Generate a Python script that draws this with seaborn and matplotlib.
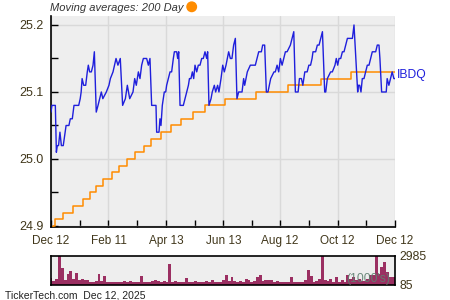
import numpy as np
import pandas as pd
import matplotlib
matplotlib.use("Agg")
import matplotlib.pyplot as plt
import seaborn as sns

# ---------------- data ----------------
start_date = "2024-12-12"
tick_dates = ["2024-12-12", "2025-02-11", "2025-04-13", "2025-06-13",
              "2025-08-12", "2025-10-12", "2025-12-12"]
tick_labels = ["Dec 12", "Feb 11", "Apr 13", "Jun 13", "Aug 12", "Oct 12", "Dec 12"]

price_day = [0, 1, 4.6, 5.7, 6.7, 8, 9.5, 11, 13, 16, 19, 20.5, 22.6, 24.4, 29.4, 31, 32, 33,
             34.7, 36.8, 38.5, 39.6, 41, 42.8, 44.6, 46, 48, 49.9, 51.6, 53.4, 55, 58.7, 61.5,
             63, 65.8, 69, 71, 73.5, 76, 78.9, 81, 83.5, 87, 88.8, 90.5, 92.7, 94.4, 96.2, 98,
             101.5, 103.3, 105, 106.8, 111.4, 112.1, 114.6, 115.6, 116.7, 118.1, 120.2, 121.7,
             122.7, 124.5, 126.3, 128, 129.8, 130.9, 133.4, 134.4, 135.5, 136.9, 140.4, 142.2,
             144, 145.8, 146.9, 148.5, 150, 151.4, 152.8, 154.6, 156.3, 158.1, 159.9, 161.6,
             163.4, 165.2, 166.2, 167.6, 169.8, 171.1, 173.3, 174.7, 176.8, 178.2, 180.4, 182.2,
             183.9, 185.7, 188.5, 190.3, 192, 193.8, 195.6, 197.3, 199.1, 202.7, 204.4, 205.5,
             206.9, 208.3, 211.5, 216.8, 218.6, 220.4, 223.2, 224.6, 226.7, 228.5, 230.2, 231.7,
             233.1, 236.6, 238, 239.9, 241.6, 243.4, 245.2, 247, 248.7, 250.5, 254, 255.8, 257.6,
             259.3, 262.2, 263.6, 265.7, 267.2, 269.3, 271.8, 273.6, 275.4, 277, 278, 280.8,
             282.6, 284.4, 286.2, 288, 290.4, 291.5, 293.2, 296.7, 298.5, 301.3, 302.7, 304.2,
             305.6, 307.4, 309.2, 310.9, 312.7, 314.5, 318, 319.8, 321.5, 325.4, 326.1, 327.5,
             328.9, 330.3, 332.1, 333.9, 335.6, 337.4, 339.2, 340.9, 344.5, 346.2, 348, 349,
             350.8, 355.7, 356.7, 358.5, 360.3, 362, 363.8, 365]
price = [25.07, 25.08, 25.08, 25.01, 25.02, 25.02, 25.04, 25.02, 25.02, 25.05, 25.05, 25.06,
         25.06, 25.08, 25.08, 25.09, 25.10, 25.12, 25.11, 25.11, 25.13, 25.14, 25.13, 25.13,
         25.14, 25.16, 25.07, 25.08, 25.09, 25.10, 25.09, 25.10, 25.11, 25.12, 25.13, 25.15,
         25.14, 25.15, 25.08, 25.09, 25.11, 25.09, 25.10, 25.12, 25.11, 25.13, 25.12, 25.14,
         25.15, 25.15, 25.14, 25.15, 25.08, 25.08, 25.04, 25.04, 25.06, 25.05, 25.08, 25.10,
         25.10, 25.11, 25.12, 25.13, 25.13, 25.15, 25.16, 25.16, 25.15, 25.16, 25.08, 25.08,
         25.09, 25.10, 25.11, 25.12, 25.12, 25.13, 25.12, 25.14, 25.13, 25.14, 25.14, 25.15,
         25.15, 25.16, 25.15, 25.16, 25.08, 25.09, 25.10, 25.11, 25.10, 25.11, 25.10, 25.12,
         25.14, 25.13, 25.14, 25.16, 25.15, 25.15, 25.17, 25.18, 25.09, 25.10, 25.10, 25.12,
         25.11, 25.12, 25.13, 25.14, 25.14, 25.15, 25.16, 25.16, 25.17, 25.17, 25.10, 25.10,
         25.11, 25.12, 25.13, 25.13, 25.14, 25.13, 25.15, 25.14, 25.15, 25.16, 25.16, 25.17,
         25.18, 25.19, 25.10, 25.10, 25.12, 25.12, 25.11, 25.13, 25.13, 25.14, 25.14, 25.15,
         25.16, 25.16, 25.17, 25.17, 25.18, 25.19, 25.10, 25.10, 25.12, 25.13, 25.13, 25.14,
         25.15, 25.14, 25.15, 25.15, 25.16, 25.16, 25.17, 25.18, 25.18, 25.18, 25.20, 25.10,
         25.11, 25.11, 25.10, 25.12, 25.12, 25.13, 25.14, 25.14, 25.15, 25.16, 25.16, 25.17,
         25.17, 25.15, 25.10, 25.10, 25.12, 25.11, 25.12, 25.13, 25.12, 25.12]

ma_day = [0, 2.4, 4.2, 13, 23, 33.6, 41.4, 47.7, 55.5, 64.4, 72.5, 80.3, 89.1, 98.7, 106.1,
          116.7, 127.3, 137.9, 150.7, 163.4, 184.1, 217.5, 251.5, 286.5, 318.8, 365]
ma200 = [24.89, 24.90, 24.91, 24.92, 24.93, 24.94, 24.95, 24.96, 24.97, 24.98, 24.99, 25.00,
         25.01, 25.02, 25.03, 25.04, 25.05, 25.06, 25.07, 25.08, 25.09, 25.10, 25.11, 25.12,
         25.13, 25.13]

vol_day = list(range(0, 366, 3))
volume = [760, 420, 660, 2985, 1800, 560, 1100, 1450, 660, 1250, 560, 660, 490, 560, 310, 280,
          420, 1180, 420, 900, 310, 350, 350, 280, 280, 350, 420, 310, 380, 350, 350, 280, 900,
          350, 280, 280, 380, 560, 420, 280, 420, 350, 2150, 280, 420, 310, 280, 280, 690, 280,
          280, 380, 310, 310, 310, 380, 280, 490, 310, 280,
          310, 490, 1000, 420, 830, 420, 310, 420, 310, 660, 490, 310, 420, 830, 1000, 420, 490,
          560, 560, 350, 420, 280, 350, 350, 280, 830, 350, 310, 280, 350, 490, 1530, 900, 350,
          420, 660, 2985, 490, 420, 660, 310, 830, 310, 490, 310, 1000, 660, 830, 560, 660, 420,
          420, 660, 1000, 1000, 2985, 1180, 1870, 2400, 1350, 830, 830]
vol_ticks = [85, 2985]

# ---------------- styling ----------------
sns.set_theme(style="white")
plt.rcParams["font.family"] = ["Liberation Sans", "DejaVu Sans"]
TXT = "#40361a"
BG = "#eeeeee"
GRID = "#d9d9d9"
BLUE = "#1f1fdc"
ORANGE = "#ff8c00"
VOLC = "#9b2f62"

base = pd.Timestamp(start_date)
tick_pos = [(pd.Timestamp(t) - base).days for t in tick_dates]
minor_pos = [(a + b) / 2 for a, b in zip(tick_pos[:-1], tick_pos[1:])]

price_df = pd.DataFrame({"day": price_day, "price": price})
ma_df = pd.DataFrame({"day": ma_day, "ma": ma200})
vol_df = pd.DataFrame({"day": vol_day[:len(volume)], "volume": volume})

fig = plt.figure(figsize=(4.5, 3.0), dpi=100)
ax = fig.add_axes([51 / 450, 1 - 227 / 300, 344 / 450, 211 / 300])
axv = fig.add_axes([51 / 450, 1 - 285 / 300, 344 / 450, 29 / 300])

# main panel
ax.set_facecolor(BG)
sns.lineplot(data=ma_df, x="day", y="ma", ax=ax, color=ORANGE, linewidth=1.1,
             drawstyle="steps-post", zorder=3)
sns.lineplot(data=price_df, x="day", y="price", ax=ax, color=BLUE, linewidth=1.0, zorder=4)
ax.set_xlim(tick_pos[0], tick_pos[-1])
ax.set_ylim(24.8985, 25.2134)
ax.set_yticks([24.9, 25.0, 25.1, 25.2])
ax.set_yticklabels(["24.9", "25.0", "25.1", "25.2"])
ax.set_yticks([24.95, 25.05, 25.15], minor=True)
ax.set_xticks(tick_pos)
ax.set_xticklabels(tick_labels)
ax.set_xticks(minor_pos, minor=True)
ax.grid(True, which="major", color=GRID, linewidth=1.0, zorder=0)
ax.set_axisbelow(True)
ax.tick_params(axis="y", which="both", direction="in", length=5, width=1, color="black",
               labelsize=9, labelcolor=TXT, pad=5, left=True)
ax.tick_params(axis="x", which="both", direction="in", length=5, width=1, color="black",
               labelsize=8.5, labelcolor=TXT, pad=6, bottom=True)
for s in ["top", "right"]:
    ax.spines[s].set_visible(False)
for s in ["left", "bottom"]:
    ax.spines[s].set_color("black")
    ax.spines[s].set_linewidth(1.2)
ax.set_xlabel("")
ax.set_ylabel("")

# series label at last price
ax.text(tick_pos[-1] + 2.5, price[-1] + 0.005, "IBDQ", color=BLUE, fontsize=8.7,
        va="center", ha="left", clip_on=False)

# volume panel
axv.set_facecolor(BG)
sns.histplot(data=vol_df, x="day", weights="volume", binwidth=3, binrange=(-1.5, 367.5),
             ax=axv, color=VOLC, alpha=1.0, edgecolor=None, linewidth=0, zorder=2)
axv.set_xlim(tick_pos[0], tick_pos[-1])
axv.set_ylim(0, vol_ticks[1])
axv.set_xticks([])
axv.yaxis.tick_right()
axv.set_yticks(vol_ticks)
axv.set_yticklabels([str(v) for v in vol_ticks])
axv.tick_params(axis="y", length=0, labelsize=8.7, labelcolor=TXT, pad=3)
axv.set_xlabel("")
axv.set_ylabel("")
for s in axv.spines.values():
    s.set_visible(True)
    s.set_color("black")
    s.set_linewidth(1.2)
axv.text(0.985, 0.22, "(1000's)", transform=axv.transAxes, ha="right", va="center",
         fontsize=8.7, color="#5f7f70", alpha=0.9, zorder=5)

# header / footer
fig.text(50 / 450, 1 - 8 / 300, "Moving averages: 200 Day", fontsize=8, style="italic",
         color="#333333", ha="left", va="center")
fig.add_artist(matplotlib.patches.Ellipse((191.7 / 450, 1 - 6.8 / 300), 9.5 / 450, 9.5 / 300,
                                          color=ORANGE, transform=fig.transFigure))
fig.text(5 / 450, 1 - 295 / 300, "TickerTech.com  Dec 12, 2025", fontsize=7.5,
         color="#222222", ha="left", va="center")

fig.savefig("out.png", dpi=100)
